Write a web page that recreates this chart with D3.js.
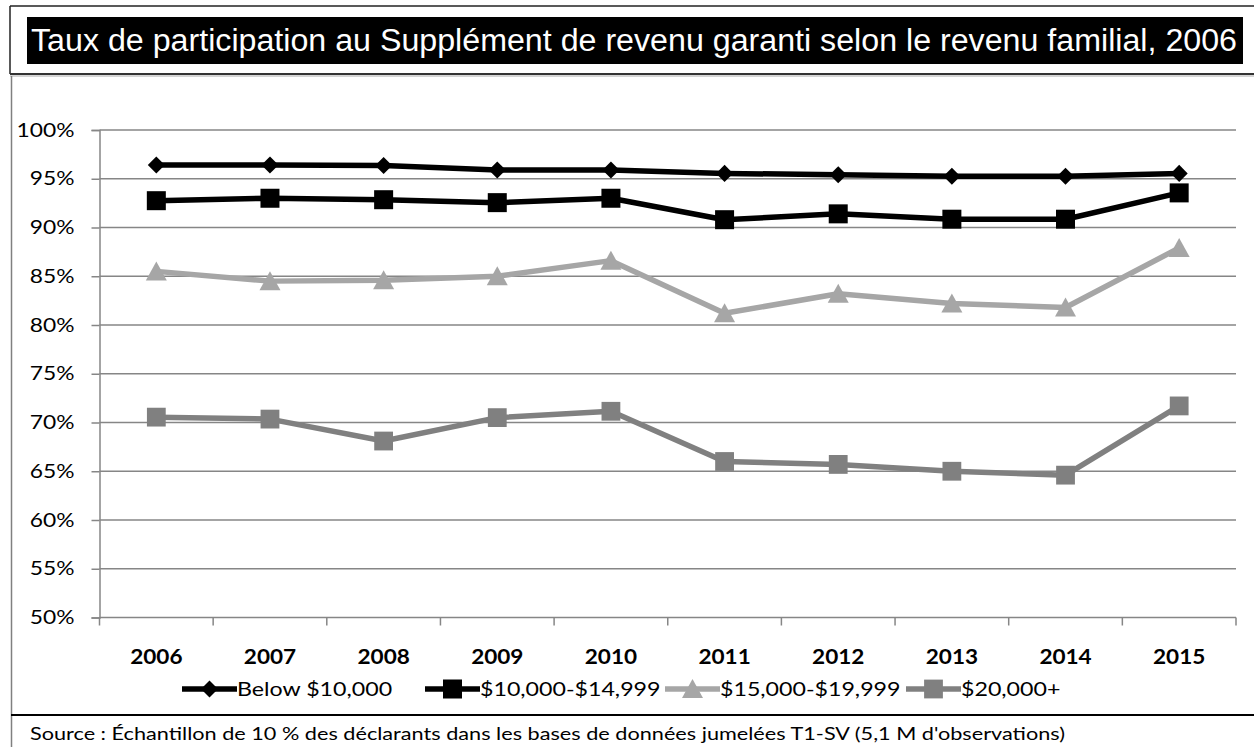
<!DOCTYPE html>
<html>
<head>
<meta charset="utf-8">
<script src="https://cdn.jsdelivr.net/npm/d3@7/dist/d3.min.js"></script>
<style>
  html, body { margin: 0; padding: 0; background: #fff; }
  svg { display: block; }
</style>
</head>
<body>
<svg id="chart" width="1254" height="747"></svg>
<script>
// Participation rates by family income, 2006-2015 (percent)
const years = ["2006", "2007", "2008", "2009", "2010", "2011", "2012", "2013", "2014", "2015"];
const below10k   = [96.4, 96.4, 96.35, 95.9, 95.9, 95.55, 95.4, 95.25, 95.25, 95.55];
const from10k    = [92.75, 93.0, 92.85, 92.55, 93.0, 90.8, 91.4, 90.85, 90.85, 93.55];
const from15k    = [85.5, 84.5, 84.6, 85.0, 86.6, 81.2, 83.2, 82.2, 81.8, 87.9];
const above20k   = [70.55, 70.35, 68.1, 70.5, 71.15, 66.0, 65.7, 65.0, 64.6, 71.7];
const seriesNames = ["Below $10,000", "$10,000-$14,999", "$15,000-$19,999", "$20,000+"];
const yTicks = [50, 55, 60, 65, 70, 75, 80, 85, 90, 95, 100];

const titleText = "Taux de participation au Supplément de revenu garanti selon le revenu familial, 2006";
const sourceText = "Source : Échantillon de 10 % des déclarants dans les bases de données jumelées T1-SV (5,1 M d'observations)";

const series = [
  { name: seriesNames[0], values: below10k, color: "#000000", symbol: d3.symbolDiamond2, size: 185 },
  { name: seriesNames[1], values: from10k,  color: "#000000", symbol: d3.symbolSquare2, size: 460 },
  { name: seriesNames[2], values: from15k,  color: "#a6a6a6", symbol: "triangle", size: 0 },
  { name: seriesNames[3], values: above20k, color: "#808080", symbol: d3.symbolSquare2, size: 450 }
];

const svg = d3.select("#chart");
const gridColor = "#868686";
const bodyFont = "Lato, 'Open Sans', sans-serif";
const stretch = 1.2;        // horizontal widening of axis text
const legendStretch = 1.16; // horizontal widening of legend text

// Frames: title band, chart body, source footer
svg.append("line").attr("x1", 10).attr("x2", 1254).attr("y1", 6).attr("y2", 6)
  .attr("stroke", "#222").attr("stroke-width", 1.5);
svg.append("line").attr("x1", 10).attr("x2", 10).attr("y1", 6).attr("y2", 74)
  .attr("stroke", "#222").attr("stroke-width", 1.5);
svg.append("line").attr("x1", 10).attr("x2", 1254).attr("y1", 74).attr("y2", 74)
  .attr("stroke", "#333").attr("stroke-width", 2);
svg.append("line").attr("x1", 10).attr("x2", 1254).attr("y1", 76).attr("y2", 76)
  .attr("stroke", "#aaa").attr("stroke-width", 1);
svg.append("line").attr("x1", 11.5).attr("x2", 11.5).attr("y1", 76).attr("y2", 747)
  .attr("stroke", "#808080").attr("stroke-width", 1.5);
svg.append("line").attr("x1", 11).attr("x2", 1254).attr("y1", 715).attr("y2", 715)
  .attr("stroke", "#000").attr("stroke-width", 2);

// Title
svg.append("rect").attr("x", 27).attr("y", 17).attr("width", 1216).attr("height", 47).attr("fill", "#000");
svg.append("text")
  .attr("x", 31).attr("y", 51)
  .attr("fill", "#fff")
  .attr("font-family", "'Liberation Sans Narrow', 'Liberation Sans', Arial, sans-serif")
  .attr("font-size", 31)
  .attr("textLength", 1206).attr("lengthAdjust", "spacingAndGlyphs")
  .text(titleText);

// Plot area
const plot = { left: 99.5, right: 1236, top: 130, bottom: 617.5 };
const x = d3.scaleBand().domain(years).range([plot.left, plot.right]);
const y = d3.scaleLinear().domain([50, 100]).range([plot.bottom, plot.top]);

// Horizontal gridlines
svg.append("g").selectAll("line").data(yTicks.filter(t => t > 50)).join("line")
  .attr("x1", plot.left).attr("x2", plot.right)
  .attr("y1", d => y(d)).attr("y2", d => y(d))
  .attr("stroke", gridColor).attr("stroke-width", 1.5);

// Y axis
const yAxis = svg.append("g").attr("transform", `translate(${plot.left},0)`)
  .call(d3.axisLeft(y).tickValues(yTicks).tickFormat(d => d + "%").tickSize(8).tickPadding(17));
yAxis.select(".domain").attr("stroke", gridColor).attr("stroke-width", 1.5);
yAxis.selectAll(".tick line").attr("stroke", gridColor).attr("stroke-width", 1.5);
yAxis.selectAll(".tick text")
  .attr("font-family", bodyFont).attr("font-size", 19).attr("fill", "#000")
  .attr("x", 0)
  .attr("transform", `translate(-25,0) scale(${stretch},1)`);

// X axis: ticks on category boundaries
svg.append("line").attr("x1", plot.left).attr("x2", plot.right)
  .attr("y1", plot.bottom).attr("y2", plot.bottom)
  .attr("stroke", gridColor).attr("stroke-width", 1.5);
const boundaries = years.map(yr => x(yr)).concat([x(years[years.length - 1]) + x.bandwidth()]);
svg.append("g").selectAll("line").data(boundaries).join("line")
  .attr("x1", d => d).attr("x2", d => d)
  .attr("y1", plot.bottom).attr("y2", plot.bottom + 8)
  .attr("stroke", gridColor).attr("stroke-width", 1.5);
svg.append("g").selectAll("text").data(years).join("text")
  .attr("transform", d => `translate(${x(d) + x.bandwidth() / 2},664) scale(1.1,1)`)
  .attr("text-anchor", "middle")
  .attr("font-family", bodyFont).attr("font-weight", "bold").attr("font-size", 20.5)
  .attr("fill", "#000")
  .text(d => d);

// Marker drawing helper
function drawMarker(g, s, cx, cy) {
  if (s.symbol === "triangle") {
    const w = 21, h = 18;
    g.append("path")
      .attr("d", `M${cx},${cy - h / 2 - 1}L${cx + w / 2},${cy + h / 2}L${cx - w / 2},${cy + h / 2}Z`)
      .attr("fill", s.color);
  } else {
    g.append("path")
      .attr("transform", `translate(${cx},${cy})`)
      .attr("d", d3.symbol().type(s.symbol).size(s.size)())
      .attr("fill", s.color);
  }
}

const cxOf = i => x(years[i]) + x.bandwidth() / 2;
const line = d3.line().x((d, i) => cxOf(i)).y(d => y(d));

series.forEach(s => {
  const g = svg.append("g");
  g.append("path")
    .datum(s.values)
    .attr("d", line)
    .attr("fill", "none")
    .attr("stroke", s.color)
    .attr("stroke-width", 5.5)
    .attr("stroke-linejoin", "round");
  s.values.forEach((v, i) => drawMarker(g, s, cxOf(i), y(v)));
});

// Legend
const legendX = [182, 425, 665, 906];
const legendY = 689;
series.forEach((s, i) => {
  const g = svg.append("g");
  const x0 = legendX[i], x1 = x0 + 55;
  g.append("line").attr("x1", x0).attr("x2", x1).attr("y1", legendY).attr("y2", legendY)
    .attr("stroke", s.color).attr("stroke-width", 5.5);
  drawMarker(g, s, (x0 + x1) / 2, legendY);
  g.append("text")
    .attr("transform", `translate(${x1},${legendY + 7}) scale(${legendStretch},1)`)
    .attr("font-family", bodyFont).attr("font-size", 20).attr("fill", "#000")
    .text(s.name);
});

// Source note
svg.append("text")
  .attr("x", 30).attr("y", 740)
  .attr("font-family", bodyFont).attr("font-size", 18).attr("fill", "#000")
  .attr("textLength", 1035).attr("lengthAdjust", "spacingAndGlyphs")
  .text(sourceText);
</script>
</body>
</html>
